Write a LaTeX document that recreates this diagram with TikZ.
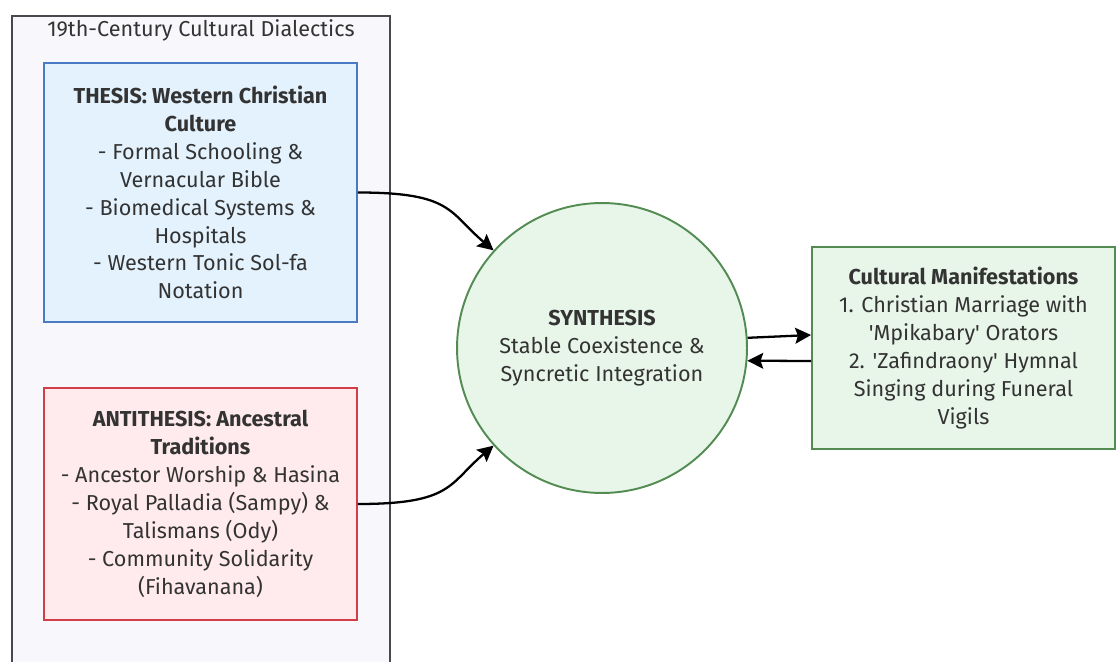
\documentclass[tikz,border=0pt]{standalone}
\usepackage{fontspec}
\setmainfont{Fira Sans}
\usetikzlibrary{arrows.meta}
\definecolor{clusf}{RGB}{248,248,252}
\definecolor{clusd}{RGB}{72,72,78}
\definecolor{thesf}{RGB}{227,242,253}
\definecolor{thesd}{RGB}{74,122,196}
\definecolor{antif}{RGB}{255,235,238}
\definecolor{antid}{RGB}{208,62,72}
\definecolor{synf}{RGB}{232,245,233}
\definecolor{synd}{RGB}{82,140,82}
\definecolor{txtc}{RGB}{51,51,51}
\newcommand{\BW}{6.26cm}
\newcommand{\LS}{\fontsize{12.3}{15.9}\selectfont}
\newcommand{\sq}{\textquotesingle}

\begin{document}
\begin{tikzpicture}[x=0.02cm, y=-0.02cm,
    box/.style={rectangle, line width=1.1pt, align=center, text=txtc, font=\LS, inner sep=0pt},
    flow/.style={draw=black, line width=1.3pt, -{Stealth[length=9pt, width=9pt, inset=1.5pt]}},
  ]
  \useasboundingbox (0,0) rectangle (1116,662);

  %% ================= the dialectics cluster =================
  \node[box, draw=clusd, fill=clusf, minimum width=7.56cm, minimum height=13.48cm] (dialect) at (201,353) {};
  \node[box] (dtitle) at (201,30) {19th-Century Cultural Dialectics};

  \node[box, draw=thesd, fill=thesf, minimum width=\BW, minimum height=5.18cm] (thesis) at (200.5,192.5)
    {\textbf{THESIS: Western Christian}\\\textbf{Culture}\\- Formal Schooling \&\\Vernacular Bible\\
     - Biomedical Systems \&\\Hospitals\\- Western Tonic Sol-fa\\Notation};
  \node[box, draw=antid, fill=antif, minimum width=\BW, minimum height=4.64cm] (anti) at (200.5,504)
    {\textbf{ANTITHESIS: Ancestral}\\\textbf{Traditions}\\- Ancestor Worship \& Hasina\\
     - Royal Palladia (Sampy) \&\\Talismans (Ody)\\- Community Solidarity\\(Fihavanana)};

  %% ================= synthesis and its outcome =================
  \node[box, circle, draw=synd, fill=synf, minimum size=5.8cm] (synth) at (602,348)
    {\textbf{SYNTHESIS}\\Stable Coexistence \&\\Syncretic Integration};
  \node[box, draw=synd, fill=synf, minimum width=6.06cm, minimum height=4.04cm] (manif) at (963.5,348)
    {\textbf{Cultural Manifestations}\\1. Christian Marriage with\\\sq Mpikabary\sq{} Orators\\
     2. \sq Zafindraony\sq{} Hymnal\\Singing during Funeral\\Vigils};

  % the two sides feed the circle
  \draw[flow] (thesis.east) .. controls +(95,0) and +(-45,-38) .. (synth.138);
  \draw[flow] (anti.east) .. controls +(95,0) and +(-45,38) .. (synth.222);
  \draw[flow] (synth.4) -- ([yshift=0.26cm]manif.west);
  \draw[flow] ([yshift=-0.26cm]manif.west) -- (synth.-5);

\end{tikzpicture}
\end{document}
